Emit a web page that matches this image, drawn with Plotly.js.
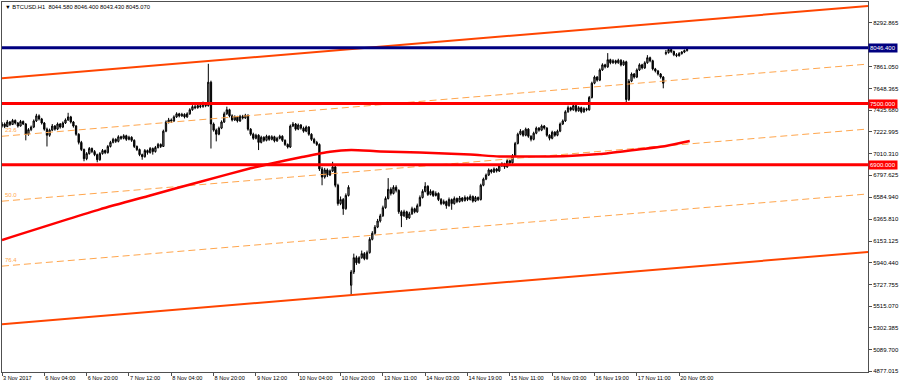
<!DOCTYPE html>
<html><head><meta charset="utf-8">
<script src="https://cdn.plot.ly/plotly-3.0.1.min.js"></script>
<style>html,body{margin:0;padding:0;background:#fff}#chart{width:900px;height:387px}</style>
</head><body><div id="chart"></div>
<script>
const symbolTitle = "\u25BC BTCUSD.H1  8044.580 8046.400 8043.430 8045.070";

const xTickBars = [0,16,32,48,64,80,96,112,128,144,160,176,192,208,224,240,256];
const xTickLabels = ["3 Nov 2017","6 Nov 04:00","6 Nov 20:00","7 Nov 12:00","8 Nov 04:00","8 Nov 20:00","9 Nov 12:00","10 Nov 04:00","10 Nov 20:00","13 Nov 11:00","14 Nov 03:00","14 Nov 19:00","15 Nov 11:00","16 Nov 03:00","16 Nov 19:00","17 Nov 11:00","20 Nov 05:00"];

const yTickValues = [8292.865,7861.050,7648.365,7435.680,7222.995,7010.310,6797.625,6584.940,6365.810,6153.125,5940.440,5727.755,5515.070,5302.385,5089.700,4877.015];
const yTickLabels = ["8292.865","7861.050","7648.365","7435.680","7222.995","7010.310","6797.625","6584.940","6365.810","6153.125","5940.440","5727.755","5515.070","5302.385","5089.700","4877.015"];

const open = [
7280,7300,7275,7320,7295,7335,7310,7280,7325,7300,
7200,7245,7270,7330,7380,7350,7310,7250,7190,7240,
7280,7250,7300,7270,7310,7340,7370,7320,7280,7200,
7120,7050,6960,7010,7060,7030,7000,6950,7010,7040,
7020,7080,7120,7150,7130,7175,7160,7185,7150,7170,
7140,7080,7050,7000,6980,7040,7020,7060,7030,7070,
7100,7080,7230,7320,7340,7330,7370,7400,7380,7395,
7370,7400,7440,7470,7460,7480,7470,7500,7480,7710,
7300,7240,7200,7260,7320,7400,7440,7380,7340,7370,
7330,7375,7360,7385,7250,7200,7160,7190,7120,7170,
7140,7180,7150,7175,7135,7160,7180,7140,7100,7075,
7280,7300,7250,7290,7260,7230,7270,7200,7150,7120,
7100,6860,6780,6850,6800,6840,6880,6700,6520,6560,
6470,6600,5720,5850,5990,5940,5990,6030,5980,6040,
6170,6230,6290,6350,6400,6480,6570,6660,6620,6680,
6650,6440,6400,6440,6380,6420,6470,6440,6500,6580,
6640,6690,6610,6640,6600,6620,6560,6520,6540,6500,
6560,6520,6570,6540,6575,6550,6580,6560,6590,6545,
6580,6560,6700,6760,6800,6850,6830,6860,6840,6890,
6910,6880,6940,6920,6990,7110,7200,7230,7190,7250,
7180,7150,7210,7260,7240,7280,7260,7190,7160,7220,
7190,7230,7300,7330,7420,7460,7440,7480,7430,7460,
7420,7450,7440,7560,7700,7760,7730,7830,7880,7860,
7930,7900,7920,7900,7925,7880,7910,7540,7720,7790,
7760,7830,7880,7850,7900,7950,7920,7840,7820,7790,
7760,7990,8000,8030,8010,7980,7970,7990,8005,8020,
8044.58];

const high = [
7320,7315,7340,7330,7350,7345,7320,7340,7335,7310,
7260,7285,7345,7400,7395,7360,7320,7265,7255,7300,
7290,7315,7310,7325,7355,7410,7380,7330,7290,7210,
7135,7060,7025,7075,7070,7045,7010,7025,7055,7050,
7095,7135,7165,7160,7190,7185,7200,7195,7185,7180,
7150,7090,7060,7010,7055,7050,7075,7070,7085,7115,
7110,7245,7335,7360,7355,7385,7415,7410,7410,7405,
7415,7455,7485,7490,7500,7495,7520,7510,7890,7725,
7315,7255,7275,7335,7420,7470,7450,7395,7385,7380,
7390,7390,7400,7395,7260,7215,7205,7200,7185,7180,
7195,7190,7190,7185,7175,7195,7190,7150,7110,7295,
7320,7310,7305,7300,7275,7285,7280,7210,7165,7135,
7110,6880,6870,6865,6855,6930,6890,6715,6590,6575,
6620,6700,5870,6030,6010,6005,6060,6045,6060,6190,
6250,6310,6370,6420,6500,6590,6770,6680,6700,6700,
6660,6455,6460,6450,6440,6490,6480,6520,6600,6660,
6730,6700,6660,6650,6640,6630,6575,6560,6550,6580,
6570,6590,6580,6595,6585,6600,6590,6610,6600,6595,
6590,6715,6775,6815,6865,6860,6875,6870,6905,6925,
6920,6955,6950,7005,7125,7215,7250,7240,7265,7260,
7190,7225,7275,7270,7295,7290,7270,7200,7235,7230,
7245,7315,7345,7435,7480,7470,7510,7490,7475,7470,
7465,7460,7575,7715,7775,7770,7845,7895,7890,7995,
7940,7935,7930,7940,7935,7925,7920,7740,7805,7800,
7845,7895,7890,7915,7975,7960,7930,7850,7830,7800,
7770,8025,8048,8040,8020,7995,8005,8015,8030,8040,
8046.40];

const low = [
7265,7260,7270,7280,7290,7295,7265,7275,7290,7140,
7185,7230,7260,7320,7335,7295,7235,7080,7175,7230,
7235,7240,7255,7260,7300,7330,7305,7265,7185,7100,
7035,6935,6945,7000,7015,6985,6925,6940,7000,7005,
7010,7070,7110,7115,7120,7145,7150,7135,7140,7125,
7065,7035,6985,6950,6970,7000,7010,7000,7020,7060,
7065,7075,7220,7305,7310,7320,7360,7365,7370,7355,
7360,7390,7430,7445,7450,7455,7460,7465,7470,7060,
7225,7130,7190,7250,7310,7390,7365,7325,7330,7315,
7320,7345,7350,7235,7185,7145,7150,7045,7110,7125,
7130,7135,7140,7120,7125,7150,7125,7085,7060,7065,
7270,7235,7240,7245,7215,7220,7185,7135,7105,7085,
6840,6700,6765,6780,6790,6830,6680,6500,6505,6410,
6460,6590,5625,5830,5920,5930,5980,5965,5970,6030,
6160,6215,6280,6335,6390,6470,6560,6600,6610,6630,
6420,6290,6390,6360,6370,6410,6425,6430,6490,6570,
6630,6595,6600,6585,6590,6545,6505,6510,6470,6490,
6460,6510,6525,6530,6535,6540,6545,6550,6530,6535,
6545,6550,6690,6750,6790,6815,6820,6825,6830,6880,
6860,6870,6900,6910,6980,7100,7190,7175,7180,7165,
7130,7140,7200,7225,7230,7245,7175,7140,7150,7175,
7180,7220,7290,7320,7410,7425,7430,7415,7420,7405,
7410,7425,7430,7550,7690,7715,7720,7820,7845,7850,
7885,7890,7885,7890,7865,7870,7510,7525,7710,7745,
7750,7820,7835,7840,7890,7905,7825,7805,7775,7745,
7650,7975,7990,7995,7965,7955,7960,7980,7995,8010,
8043.43];

const close = [
7300,7275,7320,7295,7335,7310,7280,7325,7300,7200,
7245,7270,7330,7380,7350,7310,7250,7190,7240,7280,
7250,7300,7270,7310,7340,7370,7320,7280,7200,7120,
7050,6960,7010,7060,7030,7000,6950,7010,7040,7020,
7080,7120,7150,7130,7175,7160,7185,7150,7170,7140,
7080,7050,7000,6980,7040,7020,7060,7030,7070,7100,
7080,7230,7320,7340,7330,7370,7400,7380,7395,7370,
7400,7440,7470,7460,7480,7470,7500,7480,7710,7300,
7240,7200,7260,7320,7400,7440,7380,7340,7370,7330,
7375,7360,7385,7250,7200,7160,7190,7120,7170,7140,
7180,7150,7175,7135,7160,7180,7140,7100,7075,7280,
7300,7250,7290,7260,7230,7270,7200,7150,7120,7100,
6860,6780,6850,6800,6840,6880,6700,6520,6560,6470,
6600,6680,5850,5990,5940,5990,6030,5980,6040,6170,
6230,6290,6350,6400,6480,6570,6660,6620,6680,6650,
6440,6400,6440,6380,6420,6470,6440,6500,6580,6640,
6690,6610,6640,6600,6620,6560,6520,6540,6500,6560,
6520,6570,6540,6575,6550,6580,6560,6590,6545,6580,
6560,6700,6760,6800,6850,6830,6860,6840,6890,6910,
6880,6940,6920,6990,7110,7200,7230,7190,7250,7180,
7150,7210,7260,7240,7280,7260,7190,7160,7220,7190,
7230,7300,7330,7420,7460,7440,7480,7430,7460,7420,
7450,7440,7560,7700,7760,7730,7830,7880,7860,7930,
7900,7920,7900,7925,7880,7910,7540,7720,7790,7760,
7830,7880,7850,7900,7950,7920,7840,7820,7790,7760,
7700,8000,8030,8010,7980,7970,7990,8005,8020,8030,
8045.07];

// Moving average (sampled points along the curve)
const maBars   = [0,37,56,75,94,101,113,124,132,143,158,177,188,203,214,226,239,251,260];
const maValues = [6164,6464,6600,6735,6866,6908,6974,7029,7046,7031,7021,7001,6982,6982,6987,7006,7046,7085,7134];

// Horizontal levels
const navyLevel = 8046.4;
const redLevels = [7500, 6900];

// Channel anchors (bar index, price)
const channelBars  = [0, 327.4];
const channelUpper = [7749, 8456.5];
const channelLower = [5338.5, 6046];
const fibLevels = [0.236, 0.5, 0.764];
const fibLabels = ["23.6", "50.0", "76.4"];

const barIndex = close.map((_, i) => i);
const xRange = [0, 327.4];

const traces = [];
traces.push({
  type: 'candlestick', x: barIndex, open: open, high: high, low: low, close: close,
  increasing: {line: {color: '#000000', width: 1}, fillcolor: '#9a9a9a'},
  decreasing: {line: {color: '#000000', width: 1}, fillcolor: '#000000'},
  whiskerwidth: 0, hoverinfo: 'skip', showlegend: false
});

fibLevels.forEach(f => {
  traces.push({
    type: 'scatter', mode: 'lines', x: channelBars,
    y: channelUpper.map((u, k) => u + f * (channelLower[k] - u)),
    line: {color: '#FFA64D', width: 1, dash: '7px,4px'}, hoverinfo: 'skip', showlegend: false
  });
});

traces.push({type: 'scatter', mode: 'lines', x: channelBars, y: channelUpper,
  line: {color: '#FF4500', width: 2}, hoverinfo: 'skip', showlegend: false});
traces.push({type: 'scatter', mode: 'lines', x: channelBars, y: channelLower,
  line: {color: '#FF4500', width: 2}, hoverinfo: 'skip', showlegend: false});

traces.push({type: 'scatter', mode: 'lines', x: maBars, y: maValues,
  line: {color: '#FF0000', width: 2.5, shape: 'spline', smoothing: 0.6}, hoverinfo: 'skip', showlegend: false});

redLevels.forEach(v => {
  traces.push({type: 'scatter', mode: 'lines', x: xRange, y: [v, v],
    line: {color: '#FF0000', width: 3}, hoverinfo: 'skip', showlegend: false});
});
traces.push({type: 'scatter', mode: 'lines', x: xRange, y: [navyLevel, navyLevel],
  line: {color: '#000080', width: 3}, hoverinfo: 'skip', showlegend: false});

const fontFam = '"Liberation Sans", Arial, sans-serif';

const annotations = [];
annotations.push({
  xref: 'paper', yref: 'paper', x: 0.001, y: 0.987, xanchor: 'left', yanchor: 'middle',
  text: symbolTitle, showarrow: false, font: {family: fontFam, size: 5.8, color: '#000'}
});
fibLevels.forEach((f, k) => {
  annotations.push({
    xref: 'x', yref: 'y', x: 0, y: channelUpper[0] + f * (channelLower[0] - channelUpper[0]),
    xanchor: 'left', yanchor: 'bottom', xshift: 1, yshift: 1,
    text: fibLabels[k], showarrow: false, font: {family: fontFam, size: 6, color: '#FFA64D'}
  });
});
const boxes = [[navyLevel, '#000080'], [redLevels[0], '#FF0000'], [redLevels[1], '#FF0000']];
boxes.forEach(b => {
  annotations.push({
    xref: 'paper', yref: 'y', x: 1, y: b[0], xanchor: 'left', yanchor: 'middle', xshift: 0,
    text: b[0].toFixed(3), showarrow: false, bgcolor: b[1], borderpad: 1,
    font: {family: fontFam, size: 6, color: '#ffffff'}
  });
});

const layout = {
  width: 900, height: 387,
  margin: {l: 2, r: 32, t: 2, b: 15},
  paper_bgcolor: '#ffffff', plot_bgcolor: '#ffffff',
  showlegend: false,
  xaxis: {
    type: 'linear', range: xRange, rangeslider: {visible: false},
    tickmode: 'array', tickvals: xTickBars, ticktext: xTickLabels, tickangle: 0,
    ticks: 'outside', ticklen: 3, tickcolor: '#505050', ticklabelposition: 'outside right',
    tickfont: {family: fontFam, size: 5.6, color: '#000'},
    showgrid: false, zeroline: false, showline: true, linecolor: '#505050', linewidth: 1, mirror: true,
    fixedrange: true
  },
  yaxis: {
    side: 'right', range: [4870.1, 8495.7],
    tickmode: 'array', tickvals: yTickValues, ticktext: yTickLabels,
    ticks: 'outside', ticklen: 3, tickcolor: '#505050',
    tickfont: {family: fontFam, size: 6, color: '#000'},
    showgrid: false, zeroline: false, showline: true, linecolor: '#505050', linewidth: 1, mirror: true,
    fixedrange: true
  },
  annotations: annotations
};

Plotly.newPlot('chart', traces, layout, {staticPlot: true, displayModeBar: false});
</script></body></html>
